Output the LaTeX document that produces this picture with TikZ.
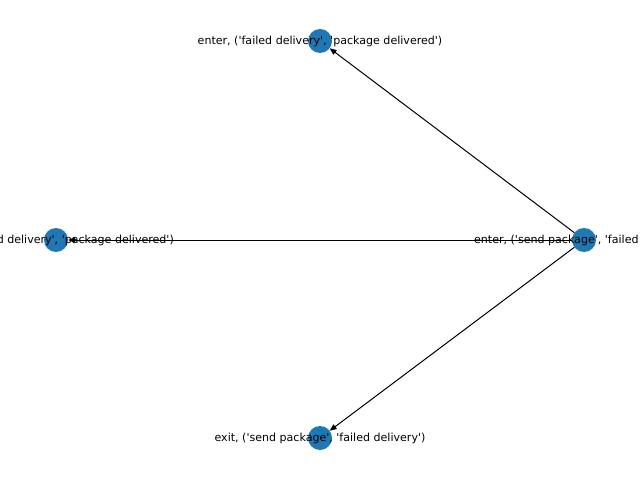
\documentclass[tikz,border=0pt]{standalone}
\usepackage{fontspec}
\newfontfamily\lblfont{DejaVu Sans}
\usetikzlibrary{arrows.meta}
\begin{document}
\begin{tikzpicture}[x=1bp,y=-1bp,
  vert/.style={circle,fill={rgb,255:red,31;green,119;blue,180},minimum size=24bp,inner sep=0pt,outer sep=0pt},
  lbl/.style={font=\lblfont\fontsize{11.1}{13}\selectfont,inner sep=0pt,text=black},
  edge/.style={draw=black,line width=1bp,-{Triangle[length=7bp,width=5.5bp]}}]
\useasboundingbox (0,0) rectangle (640,480);
\clip (0,0) rectangle (640,480);
\node[vert] (top) at (320,41) {};
\node[vert] (left) at (56,240) {};
\node[vert] (right) at (584,240) {};
\node[vert] (bot) at (320,438) {};
\draw[edge] (right) -- (top);
\draw[edge] (right) -- (left);
\draw[edge] (right) -- (bot);
\node[lbl] (ltop) at (320,41) {enter, ('failed delivery', 'package delivered')};
\node[lbl] (lleft) at (56,240) {exit, ('failed delivery', 'package delivered')};
\node[lbl] (lright) at (584,240) {enter, ('send package', 'failed delivery')};
\node[lbl] (lbot) at (320,438) {exit, ('send package', 'failed delivery')};
\end{tikzpicture}
\end{document}
